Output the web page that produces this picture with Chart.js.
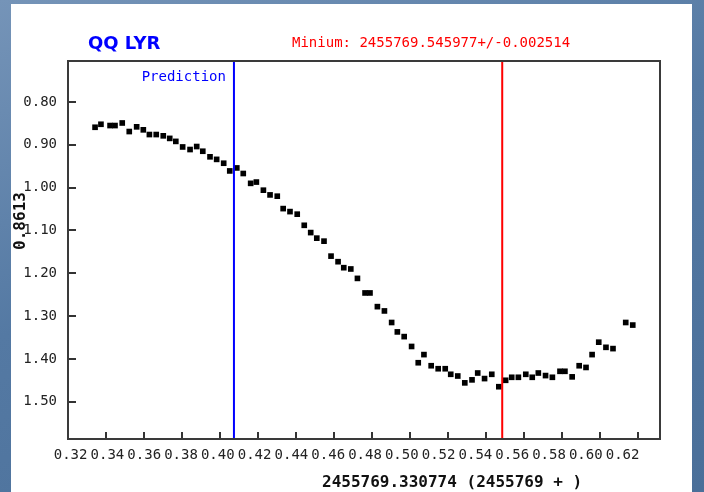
<!DOCTYPE html>
<html>
<head>
<meta charset="utf-8">
<script src="https://cdn.jsdelivr.net/npm/chart.js@4/dist/chart.umd.min.js"></script>
<style>
  html, body { margin: 0; padding: 0; }
  body { width: 704px; height: 492px; position: relative; overflow: hidden;
         background: linear-gradient(160deg, #7594b8 0%, #5479a3 45%, #4a6f99 100%); }
  #panel { position: absolute; left: 11px; top: 4px; width: 681px; height: 488px; background: #ffffff; }
  #c { position: absolute; left: 0; top: 0; }
</style>
</head>
<body>
<div id="panel"></div>
<canvas id="c" width="704" height="492"></canvas>
<script>
// ---- data ----
const phase = [0.3345,0.3376,0.3424,0.3450,0.3488,0.3525,0.3564,0.3599,0.3631,0.3667,
               0.3704,0.3738,0.3770,0.3806,0.3845,0.3880,0.3912,0.3950,0.3985,0.4022,
               0.4054,0.4091,0.4125,0.4164,0.4194,0.4231,0.4266,0.4304,0.4335,0.4371,
               0.4409,0.4446,0.4480,0.4512,0.4550,0.4587,0.4624,0.4654,0.4691,0.4726,
               0.4766,0.4792,0.4831,0.4868,0.4906,0.4936,0.4972,0.5011,0.5046,0.5076,
               0.5114,0.5151,0.5188,0.5217,0.5254,0.5291,0.5329,0.5359,0.5395,0.5433,
               0.5470,0.5506,0.5538,0.5573,0.5612,0.5646,0.5678,0.5716,0.5752,0.5792,
               0.5818,0.5856,0.5893,0.5929,0.5961,0.5996,0.6034,0.6071,0.6138,0.6175];
const mag = [0.859,0.852,0.855,0.855,0.849,0.869,0.858,0.865,0.876,0.876,
             0.879,0.885,0.892,0.905,0.911,0.904,0.915,0.928,0.934,0.943,
             0.961,0.954,0.967,0.990,0.987,1.006,1.017,1.020,1.049,1.056,
             1.062,1.088,1.105,1.118,1.125,1.160,1.173,1.187,1.190,1.212,
             1.246,1.246,1.278,1.288,1.315,1.337,1.348,1.371,1.409,1.390,
             1.416,1.423,1.423,1.436,1.440,1.456,1.449,1.433,1.446,1.436,
             1.465,1.450,1.443,1.443,1.436,1.443,1.433,1.439,1.443,1.429,
             1.429,1.442,1.416,1.420,1.390,1.361,1.373,1.376,1.315,1.321];
const xTickValues = [0.32,0.34,0.36,0.38,0.40,0.42,0.44,0.46,0.48,0.50,0.52,0.54,0.56,0.58,0.60,0.62];
const yTickValues = [0.80,0.90,1.00,1.10,1.20,1.30,1.40,1.50];
const predictionX = 0.4076;
const minimumX = 0.5488;
const xRange = [0.32026, 0.63184];
const xLabelRange = [0.318587, 0.640326];
const yRange = [0.70423, 1.58713];
const starName = 'QQ LYR';
const minimumText = 'Minium: 2455769.545977+/-0.002514';
const predictionText = 'Prediction';
const xTitle = '2455769.330774 (2455769 + )';
const yTitle = '0.8613';

const MONO = '"DejaVu Sans Mono", "Liberation Mono", monospace';

const points = phase.map((p, i) => ({ x: p, y: mag[i] }));

const decorPlugin = {
  id: 'decor',
  afterDatasetsDraw(chart) {
    const ctx = chart.ctx;
    const a = chart.chartArea;
    const xs = chart.scales.x, ys = chart.scales.y;
    ctx.save();
    // tick marks pointing inward
    ctx.strokeStyle = '#333333';
    ctx.lineWidth = 2;
    ctx.beginPath();
    xTickValues.forEach(v => {
      const px = Math.round(xs.getPixelForValue(v)) + 0.0;
      ctx.moveTo(px, a.bottom);
      ctx.lineTo(px, a.bottom - 7);
    });
    yTickValues.forEach(v => {
      const py = Math.round(ys.getPixelForValue(v));
      ctx.moveTo(a.left, py);
      ctx.lineTo(a.left + 8, py);
    });
    ctx.stroke();
    // frame
    ctx.strokeStyle = '#3a3a3a';
    ctx.lineWidth = 2;
    ctx.strokeRect(a.left, a.top, a.right - a.left, a.bottom - a.top);
    // texts
    ctx.textBaseline = 'middle';
    ctx.fillStyle = '#0000ff';
    ctx.font = 'bold 18px "DejaVu Sans", sans-serif';
    ctx.textAlign = 'left';
    ctx.fillText(starName, 88, 44);
    ctx.fillStyle = '#ff0000';
    ctx.font = '14px ' + MONO;
    ctx.fillText(minimumText, 292, 43);
    ctx.fillStyle = '#0000ff';
    ctx.textAlign = 'right';
    ctx.fillText(predictionText, xs.getPixelForValue(predictionX) - 8, 77);
    ctx.fillStyle = '#111111';
    ctx.font = 'bold 16px ' + MONO;
    ctx.textAlign = 'left';
    ctx.fillText(xTitle, 322, 483);
    ctx.translate(21, 221);
    ctx.rotate(-Math.PI / 2);
    ctx.textAlign = 'center';
    ctx.fillText(yTitle, 0, 0);
    ctx.restore();
  }
};

new Chart(document.getElementById('c'), {
  type: 'scatter',
  data: {
    datasets: [
      {
        type: 'line',
        data: [{ x: predictionX, y: yRange[0] }, { x: predictionX, y: yRange[1] }],
        borderColor: '#0000ff', borderWidth: 2, pointRadius: 0, xAxisID: 'x', yAxisID: 'y'
      },
      {
        type: 'line',
        data: [{ x: minimumX, y: yRange[0] }, { x: minimumX, y: yRange[1] }],
        borderColor: '#ff0000', borderWidth: 2, pointRadius: 0, xAxisID: 'x', yAxisID: 'y'
      },
      {
        data: points,
        pointStyle: 'rect',
        pointRadius: 4,
        pointBorderWidth: 0,
        backgroundColor: '#000000',
        borderColor: '#000000',
        xAxisID: 'x', yAxisID: 'y'
      }
    ]
  },
  options: {
    responsive: false,
    animation: false,
    devicePixelRatio: 1,
    layout: { padding: { left: 0, top: 61, right: 44, bottom: 0 } },
    plugins: { legend: { display: false }, tooltip: { enabled: false }, title: { display: false } },
    scales: {
      x: {
        type: 'linear', display: false, min: xRange[0], max: xRange[1]
      },
      xl: {
        type: 'linear', position: 'bottom', min: xLabelRange[0], max: xLabelRange[1],
        grid: { display: false, drawTicks: false },
        border: { display: false },
        afterBuildTicks: s => { s.ticks = xTickValues.map(v => ({ value: v })); },
        afterFit: s => { s.height = 53; },
        ticks: {
          padding: 8, maxRotation: 0, autoSkip: false, color: '#222222',
          font: { family: MONO, size: 14 },
          callback: v => Number(v).toFixed(2)
        }
      },
      y: {
        type: 'linear', position: 'left', reverse: true, min: yRange[0], max: yRange[1],
        grid: { display: false, drawTicks: false },
        border: { display: false },
        afterBuildTicks: s => { s.ticks = yTickValues.map(v => ({ value: v })); },
        afterFit: s => { s.width = 68; },
        ticks: {
          padding: 11, color: '#222222',
          font: { family: MONO, size: 14 },
          callback: v => Number(v).toFixed(2)
        }
      }
    }
  },
  plugins: [decorPlugin]
});
</script>
</body>
</html>
